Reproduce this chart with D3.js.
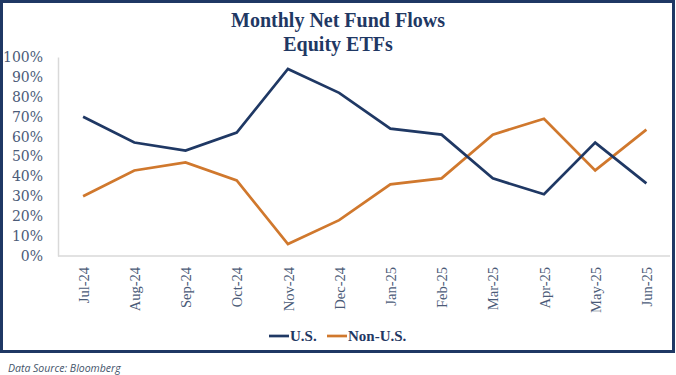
<html>
<script src="https://d3js.org/d3.v7.min.js"></script>
<style>
    body { margin: 0; background: #fff; }
    svg { display: block; }
</style>
<svg width=676 height=375></svg>
<script>
    // data
    let months = ['Jul-24','Aug-24','Sep-24','Oct-24','Nov-24','Dec-24','Jan-25','Feb-25','Mar-25','Apr-25','May-25','Jun-25'];
    let usVals = [0.70, 0.57, 0.53, 0.62, 0.94, 0.82, 0.64, 0.61, 0.39, 0.31, 0.57, 0.365];
    let nonUsVals = [0.30, 0.43, 0.47, 0.38, 0.06, 0.18, 0.36, 0.39, 0.61, 0.69, 0.43, 0.635];
    let yTicks = [0, 0.1, 0.2, 0.3, 0.4, 0.5, 0.6, 0.7, 0.8, 0.9, 1.0];

    let navy = '#1f3864', orange = '#d0782d';
    let serif = '"Liberation Serif", "DejaVu Serif", serif';

    let svg = d3.select('svg');

    // frame
    svg.append('rect')
        .attr('x', 1.5).attr('y', 1.5)
        .attr('width', 672).attr('height', 350)
        .attr('fill', 'none')
        .attr('stroke', navy)
        .attr('stroke-width', 3);

    let title = svg.append('text')
        .attr('text-anchor', 'middle')
        .attr('font-family', serif)
        .attr('font-weight', 'bold')
        .attr('font-size', 20)
        .attr('fill', navy);
    title.append('tspan').attr('x', 338).attr('y', 27).text('Monthly Net Fund Flows');
    title.append('tspan').attr('x', 338).attr('y', 51).text('Equity ETFs');

    let x = d3.scalePoint()
        .domain(months)
        .range([57.5, 672])
        .padding(0.5);

    let y = d3.scaleLinear()
        .domain([0, 1])
        .range([256, 57]);

    // axes
    let yAxis = svg.append('g')
        .attr('transform', 'translate(58,0)')
        .call(d3.axisLeft(y).tickValues(yTicks).tickFormat(d3.format('.0%')).tickSize(0).tickPadding(15));
    yAxis.select('.domain').attr('stroke', '#d9d9d9').attr('stroke-width', 1.5);
    yAxis.selectAll('text')
        .attr('font-family', '"DejaVu Serif", serif')
        .attr('font-size', 14)
        .attr('fill', '#4b5b78');

    let xAxis = svg.append('g')
        .attr('transform', 'translate(0,256)')
        .call(d3.axisBottom(x).tickSize(0).tickSizeOuter(0));
    xAxis.select('.domain').attr('stroke', '#d9d9d9').attr('stroke-width', 1.5)
        .attr('d', 'M58,0H670');
    xAxis.selectAll('text')
        .attr('font-family', serif)
        .attr('font-size', 14.5)
        .attr('fill', '#4b5b78')
        .attr('text-anchor', 'end')
        .attr('dy', '0.35em')
        .attr('transform', 'translate(0,11) rotate(-90)')
        .attr('x', 0).attr('y', 0);

    let line = d3.line()
        .x((d, i) => x(months[i]))
        .y(d => y(d));

    svg.append('path')
        .datum(nonUsVals)
        .attr('d', line)
        .attr('fill', 'none')
        .attr('stroke', orange)
        .attr('stroke-width', 2.7);

    svg.append('path')
        .datum(usVals)
        .attr('d', line)
        .attr('fill', 'none')
        .attr('stroke', navy)
        .attr('stroke-width', 2.7);

    // legend
    let legend = [
        { name: 'U.S.', color: navy, x: 269 },
        { name: 'Non-U.S.', color: orange, x: 327 }
    ];
    let lg = svg.selectAll('.legend')
        .data(legend)
        .enter()
        .append('g')
        .attr('transform', d => 'translate(' + d.x + ',336)');
    lg.append('line')
        .attr('x1', 0).attr('x2', 20)
        .attr('stroke', d => d.color)
        .attr('stroke-width', 2.7);
    lg.append('text')
        .attr('x', 21)
        .attr('dy', '0.35em')
        .attr('font-family', serif)
        .attr('font-weight', 'bold')
        .attr('font-size', 15)
        .attr('fill', navy)
        .text(d => d.name);

    svg.append('text')
        .attr('x', 8).attr('y', 372)
        .attr('font-family', '"Open Sans", sans-serif')
        .attr('font-style', 'italic')
        .attr('font-size', 10.5)
        .attr('fill', '#44546a')
        .text('Data Source: Bloomberg');
</script>
</html>
